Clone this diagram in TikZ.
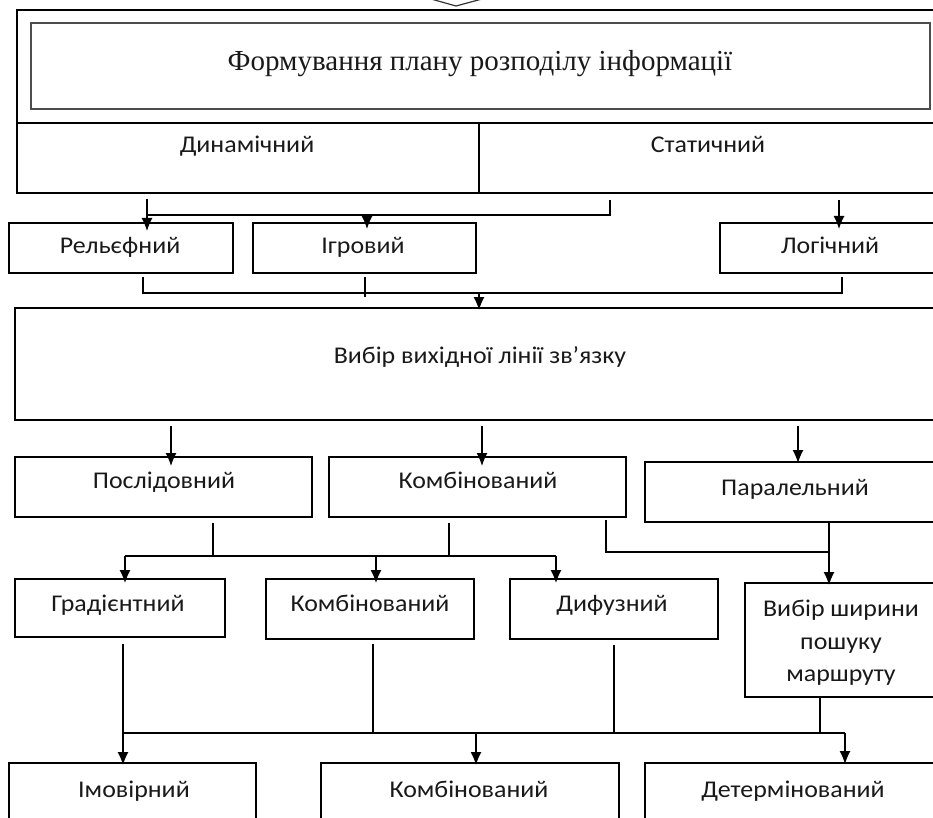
\documentclass[tikz,border=0pt]{standalone}
\usepackage{fontspec}
\setmainfont{Liberation Serif}
\newfontfamily\boxfont[FakeStretch=1.08]{Carlito}
\usetikzlibrary{arrows.meta}
\tikzset{
  box/.style={draw=black, line width=1.4pt, inner sep=0pt, outer sep=0pt},
  txt/.style={inner sep=0pt, anchor=base, text=black!90, font=\boxfont\fontsize{24}{32.5}\selectfont, align=center},
  ln/.style={draw=black, line width=1.2pt},
  arr/.style={draw=black, line width=1.2pt, -{Latex[length=13pt,width=11pt]}}
}
\begin{document}
\begin{tikzpicture}[x=1pt,y=-1pt]
\useasboundingbox (0,0) rectangle (933,818);
\clip (0,0) rectangle (933,818);
% top hollow arrow head (cut off)
\draw[line width=1.2pt, draw=black!80] (431,-1) -- (456,6) -- (482,-1);
% outer frame
\node[box, minimum width=928, minimum height=113] (outer) at (481,66.5) {};
\node[box, draw=black!70, line width=1.8pt, minimum width=899, minimum height=86] (title) at (480.5,66) {};
\node[inner sep=0pt, anchor=base, font=\fontsize{29}{34}\selectfont, text=black!90] (ttitle) at (480,71) {Формування плану розподілу інформації};
\node[box, minimum width=462, minimum height=70] (dyn) at (248,158) {};
\node[box, minimum width=466, minimum height=70] (stat) at (712,158) {};
\node[txt] (tdyn) at (247,153) {Динамічний};
\node[txt] (tstat) at (708,153) {Статичний};
% second row
\node[box, minimum width=224, minimum height=50] (rel) at (121,248) {};
\node[box, minimum width=223, minimum height=50] (igr) at (364.5,248) {};
\node[box, minimum width=225, minimum height=50] (log) at (832.5,248) {};
\node[txt] (trel) at (120,253) {Рельєфний};
\node[txt] (tigr) at (363,253) {Ігровий};
\node[txt] (tlog) at (830,253) {Логічний};
% big box
\node[box, minimum width=930, minimum height=112] (vyb) at (480,364) {};
\node[txt] (tvyb) at (480,363) {Вибір вихідної лінії зв’язку};
% third row
\node[box, minimum width=297, minimum height=60] (posl) at (163.5,487) {};
\node[box, minimum width=297, minimum height=60] (komb1) at (477.5,487) {};
\node[box, minimum width=300, minimum height=60] (par) at (795,492) {};
\node[txt] (tposl) at (164,488) {Послідовний};
\node[txt] (tkomb1) at (478,488) {Комбінований};
\node[txt] (tpar) at (795,495) {Паралельний};
% fourth row
\node[box, minimum width=210, minimum height=58] (grad) at (120,608) {};
\node[box, minimum width=208, minimum height=60] (komb2) at (370,609) {};
\node[box, minimum width=208, minimum height=60] (dyf) at (614,609) {};
\node[box, minimum width=200, minimum height=114] (shyr) at (845,640) {};
\node[txt] (tgrad) at (118,611) {Градієнтний};
\node[txt] (tkomb2) at (370,611) {Комбінований};
\node[txt] (tdyf) at (612,611) {Дифузний};
\node[txt, anchor=center] (tshyr) at (841,643) {Вибір ширини\\пошуку\\маршруту};
% bottom row
\node[box, minimum width=247, minimum height=67] (imov) at (132.5,796.5) {};
\node[box, minimum width=298, minimum height=67] (komb3) at (470,796.5) {};
\node[box, minimum width=300, minimum height=67] (det) at (795,796.5) {};
\node[txt] (timov) at (134,797) {Імовірний};
\node[txt] (tkomb3) at (469,797) {Комбінований};
\node[txt] (tdet) at (793,797) {Детермінований};
% connectors group A
\coordinate (a1) at (147,215);
\coordinate (a2) at (610,215);
\coordinate (a3) at (367,215);
\coordinate (a4) at (839,215);
\draw[arr] ([yshift=-6pt]dyn.south -| a1) -- ([yshift=-8pt]a1 |- rel.north);
\draw[ln] ([yshift=-7pt]stat.south -| a2) -- (a2) -- (a1);
\draw[arr] (a3) -- ([yshift=-6pt]a3 |- igr.north);
\draw[arr] ([yshift=-7pt]stat.south -| a4) -- ([yshift=-6pt]a4 |- log.north);
% group B
\coordinate (b1) at (143,293);
\coordinate (b2) at (842,293);
\coordinate (b3) at (479,293);
\coordinate (b4) at (365,297);
\draw[ln] ([yshift=-4pt]rel.south -| b1) -- (b1) -- (b2) -- ([yshift=-4pt]log.south -| b2);
\draw[ln] ([yshift=-4pt]igr.south -| b4) -- (b4);
\draw[arr] (b3) -- ([yshift=-2pt]b3 |- vyb.north);
% group C
\coordinate (c1) at (171,426);
\coordinate (c2) at (482,426);
\coordinate (c3) at (798,426);
\draw[arr] (c1) -- ([yshift=-9pt]c1 |- posl.north);
\draw[arr] (c2) -- ([yshift=-9pt]c2 |- komb1.north);
\draw[arr] (c3) -- ([yshift=-1pt]c3 |- par.north);
% group D
\coordinate (d1) at (213,556);
\coordinate (d2) at (449,556);
\coordinate (d3) at (125,556);
\coordinate (d4) at (376,556);
\coordinate (d5) at (556,556);
\coordinate (d6) at (606,552);
\coordinate (d7) at (829,552);
\draw[ln] ([yshift=-6pt]posl.south -| d1) -- (d1);
\draw[ln] ([yshift=-6pt]komb1.south -| d2) -- (d2);
\draw[ln] (d3) -- (d5);
\draw[arr] (d3) -- ([yshift=-4pt]d3 |- grad.north);
\draw[arr] (d4) -- ([yshift=-4pt]d4 |- komb2.north);
\draw[arr] (d5) -- ([yshift=-4pt]d5 |- dyf.north);
\draw[ln] ([yshift=-3pt]komb1.south -| d6) -- (d6) -- (d7);
\draw[arr] (par.south -| d7) -- ([yshift=-2pt]d7 |- shyr.north);
% group E
\coordinate (e1) at (123,733);
\coordinate (e2) at (373,733);
\coordinate (e3) at (614,733);
\coordinate (e4) at (820,733);
\coordinate (e5) at (476,733);
\coordinate (e6) at (845,733);
\draw[ln] ([yshift=-7pt]grad.south -| e1) -- (e1);
\draw[ln] ([yshift=-5pt]komb2.south -| e2) -- (e2);
\draw[ln] ([yshift=-6pt]dyf.south -| e3) -- (e3);
\draw[ln] (shyr.south -| e4) -- (e4);
\draw[ln] (e1) -- (e6);
\draw[arr] (e1) -- ([yshift=-2pt]e1 |- imov.north);
\draw[arr] (e5) -- ([yshift=-2pt]e5 |- komb3.north);
\draw[arr] (e6) -- ([yshift=-1pt]e6 |- det.north);
\end{tikzpicture}
\end{document}
